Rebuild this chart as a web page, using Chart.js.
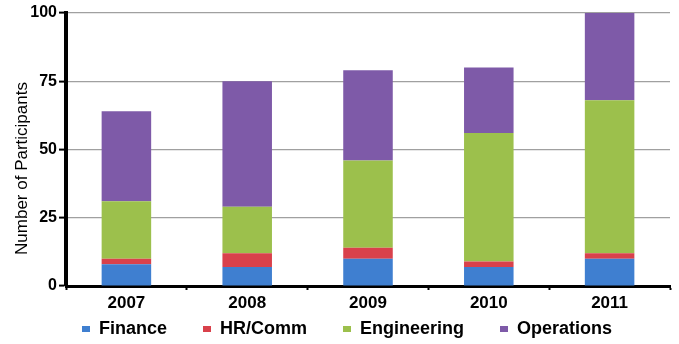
<!DOCTYPE html>
<html>
<head>
<meta charset="utf-8">
<script src="https://cdn.jsdelivr.net/npm/chart.js@4/dist/chart.umd.min.js"></script>
<style>
  html, body { margin: 0; padding: 0; background: #fff; }
  #wrap { position: relative; width: 679px; height: 344px; }
</style>
</head>
<body>
<div id="wrap"><canvas id="c" width="679" height="344"></canvas></div>
<script>
const years = ['2007', '2008', '2009', '2010', '2011'];
const finance = [8, 7, 10, 7, 10];
const hrComm = [2, 5, 4, 2, 2];
const engineering = [21, 17, 32, 47, 56];
const operations = [33, 46, 33, 24, 32];
const yTicks = [0, 25, 50, 75, 100];
const seriesNames = ['Finance', 'HR/Comm', 'Engineering', 'Operations'];
const seriesColors = ['#3f7fd0', '#d9414b', '#9cc04c', '#7e5aa8'];

const LEGEND_ITEM_TOP = 320;
const LEGEND_SHIFT = 12;

const layoutTweaks = {
  id: 'layoutTweaks',
  beforeLayout(chart) {
    const lg = chart.legend;
    if (lg && !lg.__patched) {
      const origFit = lg.fit;
      lg.fit = function () { origFit.call(this); this.height = 30; };
      lg.__patched = true;
    }
  },
  afterLayout(chart) {
    const lg = chart.legend;
    if (lg) {
      lg.top = LEGEND_ITEM_TOP - lg.options.labels.padding;
      lg.left += LEGEND_SHIFT;
      lg.right += LEGEND_SHIFT;
    }
    const ys = chart.scales.y;
    if (ys && !ys.__patched) {
      const origTitle = ys.drawTitle;
      ys.drawTitle = function () {
        const ctx = this.ctx;
        ctx.save();
        ctx.translate(0, 19);
        origTitle.call(this);
        ctx.restore();
      };
      ys.__patched = true;
    }
  }
};

const seriesData = [finance, hrComm, engineering, operations];
const datasets = seriesNames.map((name, i) => ({
  label: name,
  data: seriesData[i],
  backgroundColor: seriesColors[i],
  borderWidth: 0,
  barPercentage: 0.41,
  categoryPercentage: 1.0
}));

new Chart(document.getElementById('c'), {
  type: 'bar',
  data: { labels: years, datasets },
  plugins: [layoutTweaks],
  options: {
    responsive: false,
    animation: false,
    devicePixelRatio: 1,
    layout: { padding: { top: 13, right: 9, left: 0, bottom: 0 } },
    plugins: {
      tooltip: { enabled: false },
      legend: {
        position: 'bottom',
        labels: {
          boxWidth: 8,
          boxHeight: 6,
          padding: 36,
          color: '#000',
          font: { family: 'Liberation Sans, Arial, sans-serif', size: 18, weight: 'bold' }
        }
      }
    },
    scales: {
      x: {
        stacked: true,
        afterFit(scale) { scale.height = 28; },
        grid: {
          display: true,
          drawOnChartArea: false,
          drawTicks: true,
          offset: true,
          tickLength: 4,
          tickColor: '#000',
          tickWidth: 2
        },
        border: { display: true, color: '#000', width: 3 },
        ticks: {
          color: '#000',
          padding: 3,
          font: { family: 'Liberation Sans, Arial, sans-serif', size: 17, weight: 'bold' }
        }
      },
      y: {
        stacked: true,
        min: 0,
        max: 100,
        afterFit(scale) { scale.width = 66; },
        afterBuildTicks(scale) { scale.ticks = yTicks.map(v => ({ value: v })); },
        grid: {
          color: '#a0a0a0',
          lineWidth: 1.2,
          drawTicks: true,
          tickLength: 7,
          tickColor: '#000',
          tickWidth: 2
        },
        border: { display: true, color: '#000', width: 4 },
        ticks: {
          color: '#000',
          padding: 2,
          font: { family: 'Liberation Sans, Arial, sans-serif', size: 16, weight: 'bold' }
        },
        title: {
          display: true,
          text: 'Number of Participants',
          color: '#000',
          padding: { top: 12, bottom: 0 },
          font: { family: 'Liberation Sans, Arial, sans-serif', size: 17, weight: 'normal' }
        }
      }
    }
  }
});
</script>
</body>
</html>
